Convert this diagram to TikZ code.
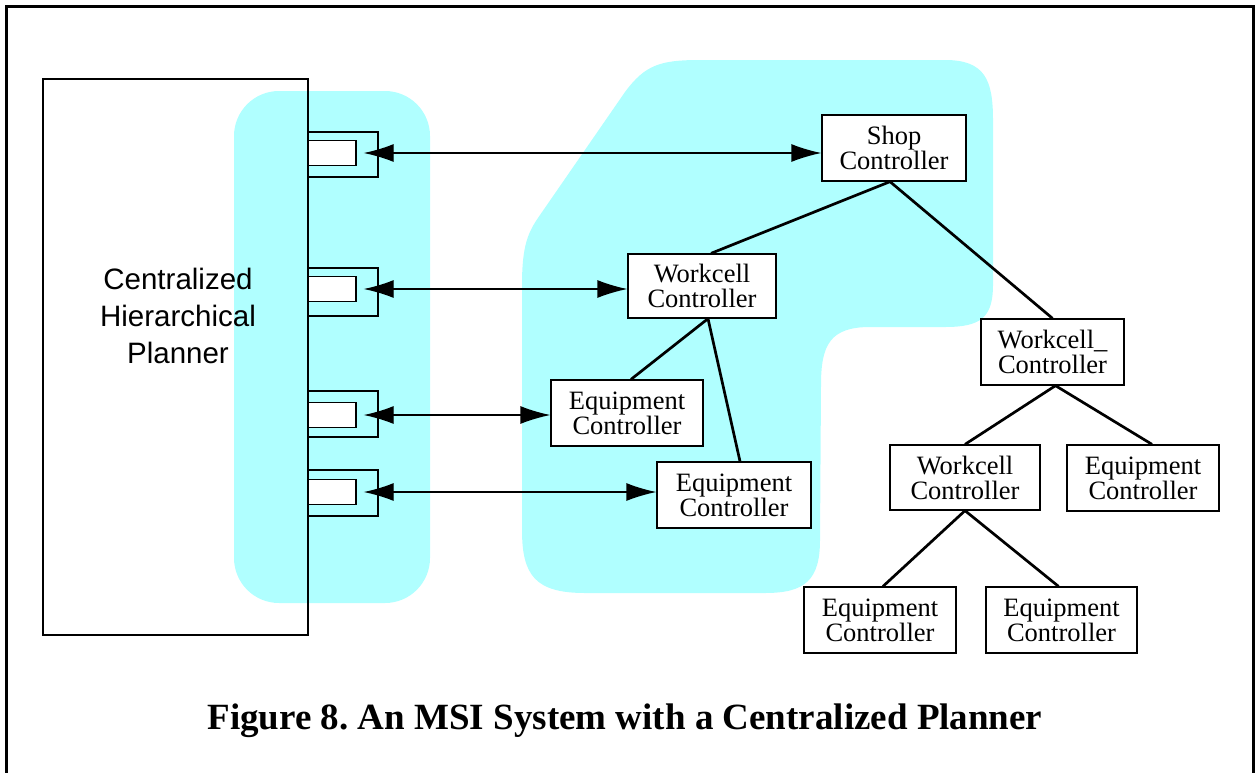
\documentclass[tikz,border=0pt]{standalone}
\usepackage{fontspec}
\setmainfont{Liberation Serif}
\newfontfamily\plannerfont{Liberation Sans}
\usetikzlibrary{arrows.meta}
\frenchspacing
\definecolor{zone}{RGB}{176,255,255}
\tikzset{
  ctrl/.style={draw, line width=1.3pt, fill=white, inner sep=0pt, align=center,
    font=\fontsize{26.5}{25}\selectfont},
  portout/.style={draw, line width=1.3pt, inner sep=0pt},
  portin/.style={draw, line width=1.3pt, fill=white, inner sep=0pt},
  link/.style={line width=2.7pt},
  msg/.style={line width=1.3pt, {Latex[length=30pt,width=18pt]}-{Latex[length=30pt,width=18pt]}},
}
\begin{document}
\begin{tikzpicture}[x=1pt, y=-1pt]
\useasboundingbox (0,0) rectangle (1255,772);
% outer frame, open at the bottom
\draw[line width=2.6pt] (6.5,790) -- (6.5,6.5) -- (1253.5,6.5) -- (1253.5,790);

% shaded zones
\fill[zone, rounded corners=45pt] (234,91) rectangle (430,603);
\fill[zone] (700,60) -- (945,60) .. controls (985,60) and (993,80) .. (993,120)
  -- (993,285) .. controls (993,318) and (980,327) .. (945,327)
  -- (870,327) .. controls (830,327) and (821,345) .. (821,385)
  -- (820,540) .. controls (820,580) and (805,593) .. (765,593)
  -- (585,593) .. controls (535,593) and (522,575) .. (522,530)
  -- (522,285) .. controls (522,245) and (528,232) .. (540,215)
  -- (625,92) .. controls (645,65) and (660,60) .. (700,60) -- cycle;

% planner
\node[draw, line width=1.3pt, minimum width=265pt, minimum height=556pt, inner sep=0pt]
  (planner) at (175.5,357) {};
\node[align=center, font=\plannerfont\fontsize{29.5}{37}\selectfont] (plannerlabel) at (178,316)
  {Centralized\\Hierarchical\\Planner};

% interface ports on the planner
\node[portout, minimum width=70pt, minimum height=45pt] (po1) at (343,154.5) {};
\node[portin, minimum width=48pt, minimum height=25pt] (p1) at (332,153) {};
\node[portout, minimum width=70pt, minimum height=48pt] (po2) at (343,292) {};
\node[portin, minimum width=48pt, minimum height=25pt] (p2) at (332,289) {};
\node[portout, minimum width=70pt, minimum height=46pt] (po3) at (343,414) {};
\node[portin, minimum width=48pt, minimum height=25pt] (p3) at (332,415) {};
\node[portout, minimum width=70pt, minimum height=46pt] (po4) at (343,493) {};
\node[portin, minimum width=48pt, minimum height=25pt] (p4) at (332,492) {};

% controllers
\node[ctrl, minimum width=144pt, minimum height=66pt] (shop) at (894,148) {Shop\\Controller};
\node[ctrl, minimum width=148pt, minimum height=64pt] (wc1) at (702,286) {Workcell\\Controller};
\node[ctrl, minimum width=152pt, minimum height=66pt] (eqa) at (627,413) {Equipment\\Controller};
\node[ctrl, minimum width=154pt, minimum height=66pt] (eqb) at (734,495) {Equipment\\Controller};
\node[ctrl, minimum width=143pt, minimum height=66pt] (wc2) at (1052.5,352) {Workcell\_\\Controller};
\node[ctrl, minimum width=150pt, minimum height=65pt] (wc3) at (965,477.5) {Workcell\\Controller};
\node[ctrl, minimum width=152pt, minimum height=66pt] (eqc) at (1143,478) {Equipment\\Controller};
\node[ctrl, minimum width=152pt, minimum height=66pt] (eqd) at (880,620) {Equipment\\Controller};
\node[ctrl, minimum width=151pt, minimum height=66pt] (eqe) at (1061.5,620) {Equipment\\Controller};

% hierarchy links
\draw[link] ([xshift=-4pt]shop.south) -- ([xshift=9pt]wc1.north);
\draw[link] ([xshift=-4pt]shop.south) -- (wc2.north);
\draw[link] ([xshift=6pt]wc1.south) -- ([xshift=4pt]eqa.north);
\draw[link] ([xshift=6pt]wc1.south) -- ([xshift=6pt]eqb.north);
\draw[link] ([xshift=3pt]wc2.south) -- (wc3.north);
\draw[link] ([xshift=3pt]wc2.south) -- ([xshift=9pt]eqc.north);
\draw[link] (wc3.south) -- ([xshift=3pt]eqd.north);
\draw[link] (wc3.south) -- ([xshift=-3pt]eqe.north);

% planner interfaces
\draw[msg] ([xshift=7pt]p1.east) -- (p1.east -| shop.west);
\draw[msg] ([xshift=7pt]p2.east) -- (p2.east -| wc1.west);
\draw[msg] ([xshift=7pt]p3.east) -- (p3.east -| eqa.west);
\draw[msg] ([xshift=7pt]p4.east) -- (p4.east -| eqb.west);

% caption
\node[anchor=base, font=\bfseries\fontsize{37}{37}\selectfont] (caption) at (625,729)
  {Figure 8. An MSI System with a Centralized Planner};
\end{tikzpicture}
\end{document}
